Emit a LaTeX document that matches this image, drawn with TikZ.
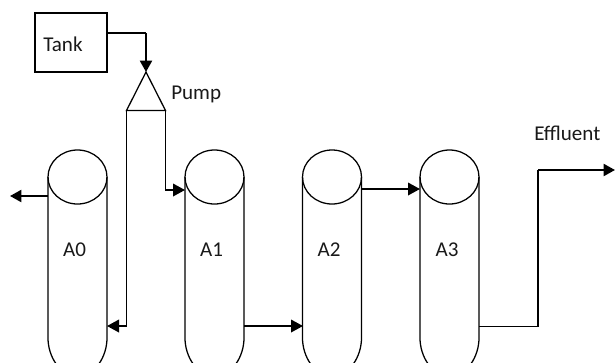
\documentclass[tikz,border=0pt]{standalone}
\usepackage{fontspec}
\setmainfont{Carlito}
\usetikzlibrary{arrows.meta}
\tikzset{
  px/.style={x=0.75pt,y=-0.75pt},
  outline/.style={draw=black,line width=0.95pt},
  flow/.style={draw=black,line width=0.95pt},
  flowin/.style={draw=black,line width=1.05pt,-{Triangle[length=9pt,width=9.5pt]}},
  flowbold/.style={draw=black,line width=1.5pt,-{Triangle[length=8.5pt,width=9pt]}},
  label/.style={inner sep=0pt,font=\fontsize{15.8}{18}\selectfont,text=black!90},
  body/.style={inner sep=0pt,minimum width=44.25pt,minimum height=142.5pt}
}
\newcommand{\tankcyl}[2]{% name, centre x
  \node[body] (#1) at (#2,245) {};
  \draw[outline] (#2,177) ellipse [x radius=22.125pt,y radius=20.25pt];
  \draw[outline] (#2-29.5,177) -- (#2-29.5,338)
    .. controls (#2-29.5,356) and (#2-18,376) .. (#2,376)
    .. controls (#2+18,376) and (#2+29.5,356) .. (#2+29.5,338) -- (#2+29.5,177);
}
\begin{document}
\begin{tikzpicture}[px]
\useasboundingbox (0,0) rectangle (615,362);
\clip (0,0) rectangle (615,362);
\tankcyl{a0}{77.5}
\tankcyl{a1}{214.5}
\tankcyl{a2}{332}
\tankcyl{a3}{449.5}
\node[label] (a0t) at (74.5,250) {A0};
\node[label] (a1t) at (211.5,250) {A1};
\node[label] (a2t) at (329,250) {A2};
\node[label] (a3t) at (447,250) {A3};
\node[outline,minimum width=54pt,minimum height=44.25pt,inner sep=0pt] (tank) at (71,42.5) {};
\node[label,anchor=west] (tankt) at (43,44.5) {Tank};
\node[label,anchor=west] (pumpt) at (171,94) {Pump};
\node[label,anchor=west] (efft) at (534,133) {Effluent};
\coordinate (apex) at (146,72);
\coordinate (pl) at (126.5,110.5);
\coordinate (pr) at (165.5,110.5);
\draw[outline,line join=miter] (apex) -- (pl) -- (pr) -- cycle;
\coordinate (tankc) at (146,33);
\coordinate (a0in) at (107,326);
\coordinate (a1in) at (185,190);
\coordinate (a0out) at (48,196);
\coordinate (drain) at (10,196);
\coordinate (a1o) at (244,326);
\coordinate (a2i) at (303,326);
\coordinate (a2o) at (361,189);
\coordinate (a3i) at (420,189);
\coordinate (a3o) at (479,326.5);
\coordinate (effb) at (538,326.5);
\coordinate (efft2) at (538,170);
\coordinate (eff) at (615,170);
\draw[flow] (tank.east |- tankc) -- (tankc);
\draw[flowbold] (tankc) -- (apex);
\draw[flowin] (pl) |- (a0in);
\draw[flowin] (pr) |- (a1in);
\draw[flowbold] (a0out) -- (drain);
\draw[flowin] (a1o) -- (a2i);
\draw[flowin] (a2o) -- (a3i);
\draw[flow] (a3o) -- (effb) -- (efft2);
\draw[flowbold] (efft2) -- (eff);
\end{tikzpicture}
\end{document}
